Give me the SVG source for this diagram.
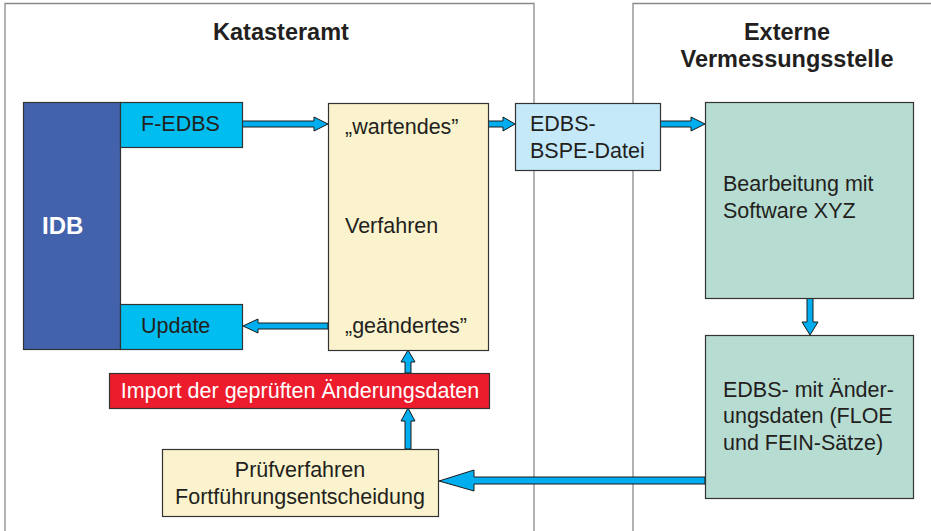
<svg xmlns="http://www.w3.org/2000/svg" width="931" height="531" viewBox="0 0 931 531">
<style>
text{font-family:"Liberation Sans",Arial,sans-serif;font-size:21.5px;fill:#231f20}
.h{font-weight:bold;font-size:23.5px;text-anchor:middle}
.frame{fill:none;stroke:#8a8a8a;stroke-width:1.3}
.bx{stroke:#333;stroke-width:1.2}
.ar{fill:#00aeef;stroke:#1a1a1a;stroke-width:1;stroke-linejoin:miter}
.c{text-anchor:middle}
</style>
<rect width="931" height="531" fill="#fff"/>
<g id="frames">
<path class="frame" d="M5,531V3.5H534V531"/>
<path class="frame" d="M633,531V3.5H940"/>
<text class="h" x="281" y="40">Katasteramt</text>
<text class="h" x="787" y="40">Externe</text>
<text class="h" x="787" y="67">Vermessungsstelle</text>
</g>
<g id="connectors">
<polygon class="ar" points="242,121 314,121 314,117 328,124 314,131 314,127 242,127"/>
<polygon class="ar" points="488,121 503,121 503,117 515,124 503,131 503,127 488,127"/>
<polygon class="ar" points="660,121 691,121 691,117 705,124 691,131 691,127 660,127"/>
<polygon class="ar" points="807,298 813,298 813,322 818,322 810,335 802,322 807,322"/>
<polygon class="ar" points="328,323 258,323 258,319 243,326 258,333 258,329 328,329"/>
<polygon class="ar" points="705,477 474,477 474,470 439,481 474,491 474,484 705,484"/>
<polygon class="ar" points="405,449 405,421 401,421 408,408 415,421 411,421 411,449"/>
<polygon class="ar" points="405,373 405,362 401,362 408,350 415,362 411,362 411,373"/>
</g>
<g id="idb">
<rect class="bx" x="23.5" y="102.5" width="97" height="247" fill="#4262ab"/>
<text x="42" y="234" style="font-weight:bold;font-size:24px;fill:#fff">IDB</text>
</g>
<g id="fedbs">
<rect class="bx" x="120.5" y="102.5" width="122" height="45" fill="#00bdf0"/>
<text x="141" y="131">F-EDBS</text>
</g>
<g id="update">
<rect class="bx" x="120.5" y="304.5" width="122" height="45" fill="#00bdf0"/>
<text x="141" y="333">Update</text>
</g>
<g id="verfahren">
<rect class="bx" x="328.5" y="103.5" width="160" height="247" fill="#faf3cd"/>
<text x="345" y="134">„wartendes”</text>
<text x="345" y="233">Verfahren</text>
<text x="345" y="333">„geändertes”</text>
</g>
<g id="bspe">
<rect class="bx" x="515.5" y="103.5" width="145" height="67" fill="#c6e9fa"/>
<text x="530" y="131">EDBS-</text>
<text x="530" y="158">BSPE-Datei</text>
</g>
<g id="bearbeitung">
<rect class="bx" x="705.5" y="102.5" width="208" height="196" fill="#b7dcd2"/>
<text x="723" y="191">Bearbeitung mit</text>
<text x="723" y="218">Software XYZ</text>
</g>
<g id="aenderung">
<rect class="bx" x="705.5" y="335.5" width="208" height="163" fill="#b7dcd2"/>
<text x="723" y="397">EDBS- mit Änder-</text>
<text x="723" y="423">ungsdaten (FLOE</text>
<text x="723" y="450">und FEIN-Sätze)</text>
</g>
<g id="import">
<rect class="bx" x="109.5" y="373.5" width="380" height="35" fill="#ec1c2d"/>
<text class="c" x="300" y="398" style="fill:#fff">Import der geprüften Änderungsdaten</text>
</g>
<g id="pruef">
<rect class="bx" x="162.5" y="449.5" width="276" height="67" fill="#faf3cd"/>
<text class="c" x="300" y="477">Prüfverfahren</text>
<text class="c" x="300" y="504">Fortführungsentscheidung</text>
</g>
</svg>
